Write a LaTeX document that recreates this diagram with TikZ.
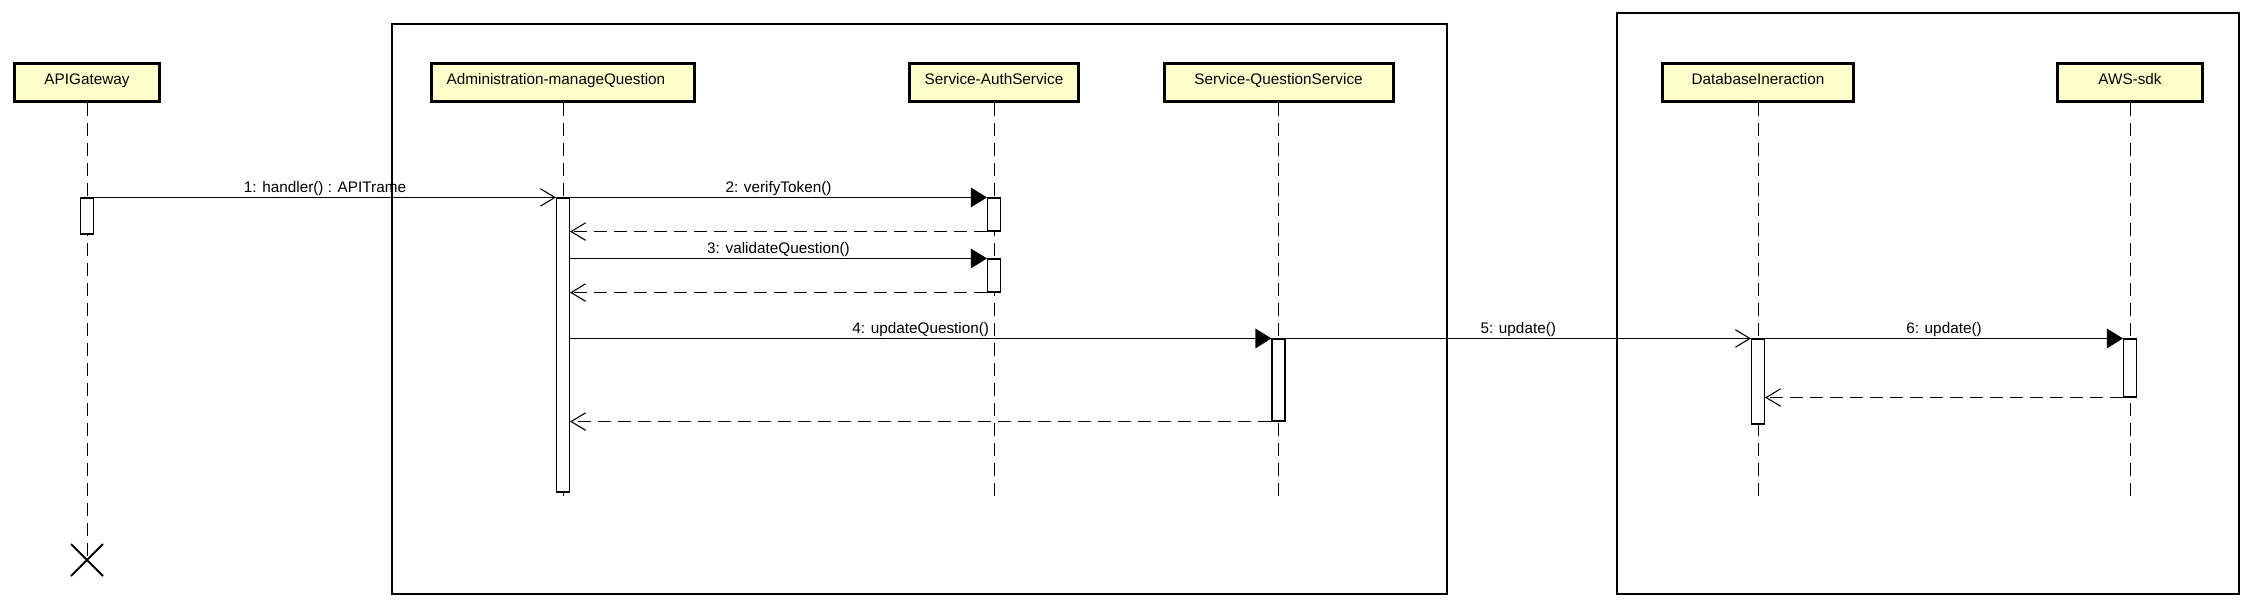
\documentclass[tikz,border=0pt]{standalone}
\usepackage{fontspec}
\setmainfont{Liberation Sans}
\usetikzlibrary{arrows.meta,shapes.misc}
\definecolor{boxfill}{RGB}{255,255,204}
\tikzset{
  lifebox/.style={draw=black, line width=3pt, fill=boxfill, minimum height=38pt,
    inner sep=0pt, text height=11pt, text depth=8pt, font=\fontsize{15.3}{18}\selectfont},
  lifeline/.style={line width=1pt, dash pattern=on 13pt off 7pt},
  actbox/.style={draw=black, fill=white, line width=1.1pt, minimum width=13pt, inner sep=0pt},
  msgline/.style={line width=1.1pt},
  syncmsg/.style={msgline, -{Triangle[length=16pt,width=19.5pt]}},
  openmsg/.style={msgline, -{Straight Barb[length=14.5pt,width=17.5pt]}},
  retmsg/.style={line width=1.1pt, dash pattern=on 13pt off 7pt, -{Straight Barb[length=14.5pt,width=17.5pt]}},
  msglabel/.style={midway, anchor=base, yshift=4.5pt, inner sep=0pt, font=\fontsize{15.3}{18}\selectfont},
  framebox/.style={draw=black, line width=1.3pt}
}
\begin{document}
\begin{tikzpicture}[x=1pt,y=-1pt]
\useasboundingbox (0,0) rectangle (2253,608);

% frames
\draw[framebox] (392,24) rectangle (1447,594);
\draw[framebox] (1617,13) rectangle (2239,594);

% lifeline heads
\node[lifebox, minimum width=145pt] (api) at (87,82.5) {APIGateway};
\node[lifebox, minimum width=263pt] (adm) at (563,82.5) {Administration-manageQuestion\hspace*{14pt}};
\node[lifebox, minimum width=169pt] (auth) at (994,82.5) {Service-AuthService};
\node[lifebox, minimum width=229pt] (qs) at (1278.5,82.5) {Service-QuestionService};
\node[lifebox, minimum width=191pt] (db) at (1758,82.5) {DatabaseIneraction};
\node[lifebox, minimum width=145pt] (aws) at (2130,82.5) {AWS-sdk};

% destruction mark
\node[draw=black, cross out, line width=2pt, minimum size=30pt, inner sep=0pt] (xmark) at (87,560) {};

% lifeline ends
\coordinate (admEnd) at (563,503);
\coordinate (authEnd) at (994,502);
\coordinate (qsEnd) at (1278.5,502);
\coordinate (dbEnd) at (1758,502);
\coordinate (awsEnd) at (2130,502);

% lifelines
\draw[lifeline] (api.south) -- (xmark.center);
\draw[lifeline] (adm.south) -- (admEnd);
\draw[lifeline] (auth.south) -- (authEnd);
\draw[lifeline] (qs.south) -- (qsEnd);
\draw[lifeline] (db.south) -- (dbEnd);
\draw[lifeline] (aws.south) -- (awsEnd);

% activations
\node[actbox, minimum height=36pt] (actAPI) at (87,216) {};
\node[actbox, minimum height=294pt] (actAdm) at (563,345) {};
\node[actbox, minimum height=33pt] (actAuth1) at (994,214.5) {};
\node[actbox, minimum height=33pt] (actAuth2) at (994,275.5) {};
\node[actbox, minimum height=82pt] (actQS) at (1278.5,380) {};
\node[actbox, minimum height=85pt] (actDB) at (1758,381.5) {};
\node[actbox, minimum height=58pt] (actAWS) at (2130,368) {};

% messages
\draw[openmsg] (actAPI.north east) -- (actAdm.north west)
  node[msglabel] {1: handler() : APITrame};
\draw[syncmsg] (actAdm.east |- actAuth1.north) -- (actAuth1.north west)
  node[msglabel] {2: verifyToken()};
\draw[retmsg] (actAuth1.south west) -- (actAdm.east |- actAuth1.south);
\draw[syncmsg] (actAdm.east |- actAuth2.north) -- (actAuth2.north west)
  node[msglabel] {3: validateQuestion()};
\draw[retmsg] (actAuth2.south west) -- (actAdm.east |- actAuth2.south);
\draw[syncmsg] (actAdm.east |- actQS.north) -- (actQS.north west)
  node[msglabel] {4: updateQuestion()};
\draw[openmsg] (actQS.north east) -- (actDB.north west)
  node[msglabel] {5: update()};
\draw[syncmsg] (actDB.north east) -- (actAWS.north west)
  node[msglabel] {6: update()};
\draw[retmsg] (actAWS.south west) -- (actDB.east |- actAWS.south);
\draw[retmsg] (actQS.south west) -- (actAdm.east |- actQS.south);
\end{tikzpicture}
\end{document}
